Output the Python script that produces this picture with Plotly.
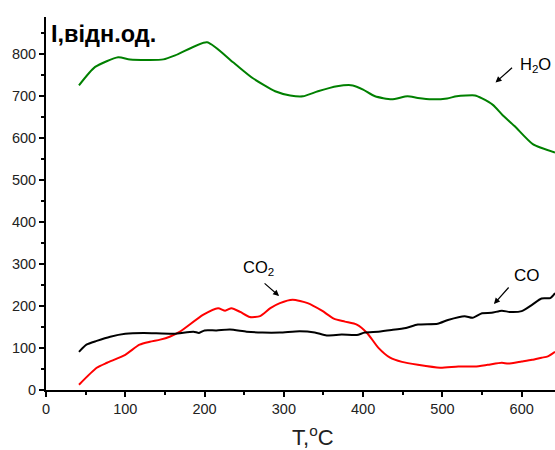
import plotly.graph_objects as go

# H2O (green)
h2o_t = [41.6, 62, 91, 106, 148, 166, 203, 236, 261, 289, 308, 324, 343, 367, 387, 400, 415, 436, 456, 469, 487, 506, 518, 541, 550, 564, 576, 591, 614, 642]
h2o_i = [726, 770, 793, 788, 788, 800, 829, 781, 743, 712, 702, 700, 712, 724, 726, 716, 700, 693, 700, 696, 693, 695, 700, 702, 695, 679, 655, 629, 586, 566]

# CO2 (red)
co2_t = [41.6, 64, 77, 100, 118, 131, 144, 156, 169, 198, 217, 226, 234, 245, 257, 270, 283, 295, 311, 330, 348, 363, 377, 392, 405, 419, 434, 449, 469, 497, 520, 541, 557, 575, 583, 600, 613, 625, 633, 642]
co2_i = [12.6, 53, 65, 84, 108, 115, 120, 127, 139, 179, 195, 189, 195, 186, 174, 176, 195, 207, 215, 207, 189, 170, 163, 156, 136, 101, 77, 67, 60, 53, 56, 56, 60, 65, 63, 68, 72, 77, 80, 91]

# CO (black)
co_t = [41.6, 51, 64, 81, 100, 123, 161, 186, 193, 200, 215, 232, 253, 273, 295, 320, 339, 354, 373, 392, 402, 419, 436, 454, 469, 494, 507, 528, 538, 550, 562, 575, 585, 600, 613, 625, 636, 642]
co_i = [91, 108, 117, 127, 134, 136, 134, 139, 136, 142, 142, 144, 139, 137, 137, 140, 137, 130, 132, 131, 137, 139, 143, 148, 156, 158, 167, 176, 172, 183, 184, 189, 186, 188, 203, 218, 219, 231]

x_ticks = [0, 100, 200, 300, 400, 500, 600]
y_ticks = [0, 100, 200, 300, 400, 500, 600, 700, 800]

FONT = "Liberation Sans, Arial, sans-serif"

fig = go.Figure()
fig.add_trace(go.Scatter(x=h2o_t, y=h2o_i, mode="lines", line=dict(color="#008000", width=2, shape="spline", smoothing=0.6)))
fig.add_trace(go.Scatter(x=co2_t, y=co2_i, mode="lines", line=dict(color="#ff0000", width=2, shape="spline", smoothing=0.6)))
fig.add_trace(go.Scatter(x=co_t, y=co_i, mode="lines", line=dict(color="#000000", width=2, shape="spline", smoothing=0.6)))

ann = []
# labels
ann.append(dict(x=0.006, y=0.955, xref="paper", yref="paper", text="<b>I,відн.од.</b>", showarrow=False,
                xanchor="left", yanchor="middle", font=dict(size=23.5, color="#000", family=FONT)))
ann.append(dict(x=0.525, y=-0.122, xref="paper", yref="paper", text="T,<sup>o</sup>C", showarrow=False,
                xanchor="center", yanchor="middle", font=dict(size=22, color="#222", family=FONT)))
ann.append(dict(x=617, y=775, text="H<sub>2</sub>O", showarrow=False, font=dict(size=16.5, color="#000", family=FONT)))
ann.append(dict(x=607, y=272, text="CO", showarrow=False, font=dict(size=17, color="#000", family=FONT)))
ann.append(dict(x=268, y=290, text="CO<sub>2</sub>", showarrow=False, font=dict(size=16.5, color="#000", family=FONT)))
# arrows
ann.append(dict(x=567, y=733, ax=18, ay=-16, text="", showarrow=True, arrowhead=2, arrowsize=1, arrowwidth=1.2, arrowcolor="#000"))
ann.append(dict(x=565, y=205, ax=16, ay=-18, text="", showarrow=True, arrowhead=2, arrowsize=1, arrowwidth=1.2, arrowcolor="#000"))
ann.append(dict(x=294, y=224, ax=-16, ay=-14, text="", showarrow=True, arrowhead=2, arrowsize=1, arrowwidth=1.2, arrowcolor="#000"))

fig.update_layout(
    width=555, height=450,
    margin=dict(l=46, r=0, t=17, b=60, autoexpand=False),
    paper_bgcolor="white", plot_bgcolor="white",
    showlegend=False,
    font=dict(family=FONT, color="#222", size=14),
    annotations=ann,
    xaxis=dict(range=[0, 642], tickvals=x_ticks, showgrid=False, zeroline=False, automargin=False,
               showline=True, linecolor="#000", linewidth=2,
               ticks="outside", ticklen=5, tickwidth=1.5, tickcolor="#000",
               minor=dict(dtick=50, tick0=0, ticks="outside", ticklen=3, tickcolor="#000"),
               tickfont=dict(size=14.5)),
    yaxis=dict(range=[0, 889], tickvals=y_ticks, showgrid=False, zeroline=False, automargin=False,
               showline=True, linecolor="#000", linewidth=2,
               ticks="outside", ticklen=5, tickwidth=1.5, tickcolor="#000",
               minor=dict(dtick=50, tick0=0, ticks="outside", ticklen=3, tickcolor="#000"),
               tickfont=dict(size=14.5)),
)

fig.write_html("out.html", config={"displayModeBar": False},
               post_script="document.body.style.margin='0px';document.body.style.overflow='hidden';")
